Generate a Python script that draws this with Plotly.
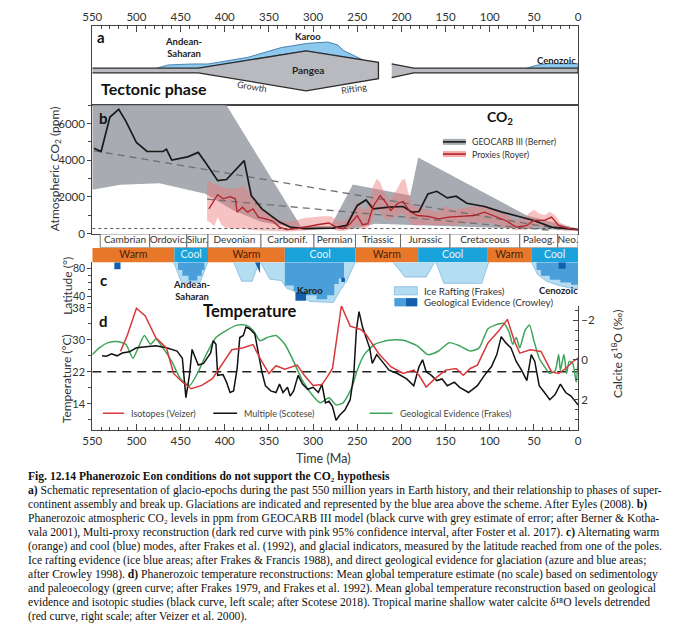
import plotly.graph_objects as go

# ======================= DATA =======================
X_START, X_END = 550, 0

# ---- panel a: tectonic schematic (Ma, schematic height) ----
PANGEA_MA = [550, 430, 308, 226, 226, 308, 430, 550]
PANGEA_H = [37.7, 37.7, 55.3, 43.7, 27.0, 14.7, 33.0, 33.0]
BREAKUP_MA = [211, 186, 0, 0, 186, 211]
BREAKUP_H = [42.0, 37.7, 37.7, 33.0, 33.0, 28.0]
GLACIAL_PALEO_MA = [477, 464, 437, 419, 374, 336, 306, 283, 272, 265, 253, 244, 308, 430]
GLACIAL_PALEO_H = [37.7, 41.0, 42.0, 42.0, 48.7, 58.7, 63.0, 64.3, 61.3, 55.3, 50.3, 46.2, 55.3, 37.7]
GLACIAL_CENO_MA = [58, 48, 35, 15, 0, 0]
GLACIAL_CENO_H = [37.7, 40.5, 42.3, 42.7, 42.3, 37.7]

# ---- panel b: CO2 (ppm) ----
GEOCARB_MA = [548, 540, 530, 520, 512, 500, 488, 470, 466, 460, 442, 430, 422, 408, 398, 380,
              378, 370, 358, 338, 326, 310, 278, 262, 250, 240, 232, 214, 198, 188, 180, 170,
              160, 148, 138, 126, 106, 86, 66, 50, 30, 0]
GEOCARB_CO2 = [4660, 4480, 6360, 6780, 6140, 4970, 4480, 4480, 4600, 4010, 4190, 4430, 3890, 2890,
               2950, 3890, 3980, 2080, 1355, 630, 360, 270, 300, 450, 1540, 1840, 1355, 1445, 1480,
               1175, 1210, 2170, 2310, 1950, 2040, 1660, 1480, 1175, 940, 720, 360, 220]
GC_UPPER_MA = [550, 398, 314, 280, 255, 190, 181, 58, 0]
GC_UPPER_CO2 = [7600, 7000, 420, 420, 2680, 2080, 4150, 990, 270]
GC_LOWER_MA = [550, 518, 474, 422, 390, 358, 318, 290, 254, 230, 190, 158, 58, 0]
GC_LOWER_CO2 = [2400, 2670, 2750, 2170, 1265, 630, 325, 280, 250, 540, 450, 420, 270, 180]

PROXY_MA = [418, 412, 408, 402, 394, 388, 386, 380, 374, 368, 362, 354, 346, 338, 330, 318, 306,
            294, 282, 274, 266, 258, 250, 244, 238, 232, 224, 218, 212, 204, 198, 190, 182, 170,
            158, 146, 134, 118, 106, 94, 82, 70, 58, 50, 38, 30, 22, 10, 0]
PROXY_CO2 = [1355, 1800, 2130, 1900, 2020, 1900, 1175, 1445, 1175, 1355, 900, 810, 690, 360, 220,
             270, 400, 500, 580, 360, 270, 540, 990, 490, 540, 1480, 2080, 1720, 1265, 1660, 1750,
             1175, 990, 940, 810, 900, 940, 990, 1175, 940, 720, 360, 450, 720, 720, 900, 450,
             270, 220]
CI_MA = [420, 416, 412, 408, 404, 400, 396, 390, 384, 378, 372, 366, 360, 354, 348, 340, 330, 320,
         310, 300, 290, 280, 272, 266, 260, 254, 250, 246, 240, 236, 232, 228, 224, 220, 216, 212,
         208, 204, 200, 196, 192, 188, 184, 180, 170, 160, 150, 140, 130, 120, 110, 100, 90, 80,
         70, 60, 56, 50, 44, 38, 32, 26, 20, 14, 8, 0]
CI_UPPER = [2890, 2800, 2700, 2600, 2550, 2500, 2450, 2450, 2500, 2600, 2200, 1700, 1400, 1200,
            1000, 800, 650, 700, 850, 900, 950, 950, 700, 650, 900, 1300, 1800, 1400, 1300, 1800,
            2600, 3000, 2800, 2300, 2000, 1800, 2200, 2500, 2900, 3000, 2200, 1600, 1500, 1400,
            1300, 1200, 1500, 1300, 1400, 1500, 1450, 1500, 1200, 1000, 700, 900, 1100, 1300,
            1100, 1000, 1200, 1000, 600, 450, 350, 300]
CI_LOWER = [700, 600, 400, 900, 500, 350, 300, 250, 300, 250, 200, 180, 170, 160, 150, 150, 120,
            130, 150, 200, 250, 250, 150, 150, 200, 350, 500, 250, 250, 400, 900, 1300, 1200, 900,
            700, 800, 900, 1000, 1100, 1000, 700, 500, 450, 450, 500, 450, 500, 450, 550, 600,
            600, 600, 400, 300, 200, 200, 250, 400, 400, 400, 500, 300, 200, 150, 150, 150]
TREND_UPPER_MA = [548, 20]
TREND_UPPER_CO2 = [4520, 240]
TREND_LOWER_MA = [420, 30]
TREND_LOWER_CO2 = [1880, 180]
PREINDUSTRIAL_CO2 = 280

# ---- panel c: periods, modes, glacial latitude ----
PERIOD_BOUNDS = [541, 485, 443, 419, 359, 299, 252, 201, 145, 66, 23, 0]
PERIOD_NAMES = ["Cambrian", "Ordovic.", "Silur.", "Devonian", "Carbonif.", "Permian",
                "Triassic", "Jurassic", "Cretaceous", "Paleog.", "Neo."]
MODE_BOUNDS = [550, 457, 419, 332, 252, 181, 103, 53, 0]
MODE_NAMES = ["Warm", "Cool", "Warm", "Cool", "Warm", "Cool", "Warm", "Cool"]

RAFT_ANDEAN = [(458, 90), (449, 60), (428, 60), (419, 90)]
RAFT_DEVONIAN = [(390, 90), (381, 62), (369, 62), (361, 90)]
RAFT_KAROO = [(360, 90), (349, 65), (336, 63), (330, 52), (318, 46), (304, 33), (277, 31.5),
              (270, 47), (262, 62), (252, 90)]
RAFT_JURASSIC = [(210, 90), (196, 68), (172, 68), (162, 90)]
RAFT_CRETACEOUS = [(161, 90), (152, 59), (109, 59), (101, 90)]
RAFT_CENOZOIC = [(53, 90), (46, 72), (36, 62), (22, 56), (8, 52), (0, 51), (0, 90)]
GEO_ANDEAN = [(453, 90), (453, 78), (448, 78), (448, 70), (441, 70), (441, 63), (431, 63),
              (431, 70), (426, 70), (426, 78), (423, 78), (423, 90)]
GEO_KAROO = [(332, 90), (332, 56), (322, 56), (322, 48), (316, 48), (316, 42), (296, 42),
             (296, 36), (284, 36), (284, 42), (276, 42), (276, 58), (271, 58), (271, 66),
             (265, 66), (265, 90)]
GEO_CENOZOIC = [(47, 90), (47, 78), (42, 78), (42, 70), (32, 70), (32, 64), (20, 64), (20, 60),
                (8, 60), (8, 57), (0, 57), (0, 90)]
DARK_CAMBRIAN = [(525, 90), (518, 90), (518, 79), (525, 79)]
DARK_DEVONIAN = [(366, 90), (360, 90), (360, 73)]
DARK_KAROO = [(320, 47), (308, 47), (308, 34), (320, 34)]
DARK_PERMIAN = [(268, 67), (264, 67), (264, 61), (268, 61)]
DARK_CENOZOIC = [(22, 90), (14, 90), (14, 80), (22, 80)]

# ---- panel d: temperature ----
SCOTESE = [(539, 26.0), (534, 25.9), (528, 26.5), (522, 26.0), (516, 26.7), (508, 27.0),
           (500, 28.0), (490, 28.3), (478, 28.5), (466, 28.0), (454, 27.2), (448, 25.4),
           (444, 15.5), (440, 21.1), (437, 27.6), (434, 25.9), (430, 23.7), (424, 24.1),
           (416, 26.7), (413, 29.8), (410, 28.9), (408, 21.1), (402, 21.3), (398, 19.4),
           (394, 16.8), (390, 17.2), (386, 22.8), (383, 30.6), (379, 31.1), (376, 33.2),
           (372, 32.8), (366, 31.5), (362, 26.7), (358, 22.0), (354, 18.5), (348, 17.2),
           (342, 16.8), (338, 18.9), (334, 16.8), (329, 18.1), (326, 15.9), (322, 17.2),
           (317, 21.1), (312, 18.9), (306, 17.6), (300, 18.1), (294, 16.8), (290, 18.9),
           (286, 14.2), (282, 14.6), (278, 13.3), (274, 9.8), (270, 11.1), (264, 12.4),
           (258, 15.0), (254, 21.1), (251, 32.4), (248, 37.1), (244, 33.2), (240, 30.6),
           (236, 28.0), (233, 24.1), (228, 26.3), (220, 24.1), (214, 22.4), (204, 21.5),
           (194, 20.2), (186, 18.5), (180, 23.3), (176, 25.0), (172, 22.0), (166, 21.1),
           (160, 19.8), (154, 20.2), (148, 18.5), (140, 19.4), (134, 18.1), (124, 16.8),
           (114, 18.5), (106, 21.1), (98, 23.3), (92, 26.3), (87, 30.8), (82, 29.3),
           (76, 28.0), (70, 24.6), (64, 22.4), (58, 19.8), (53, 26.3), (49, 24.6), (44, 18.5),
           (38, 16.8), (32, 15.0), (26, 16.3), (20, 18.9), (14, 16.8), (8, 15.9), (0, 13.7)]
VEIZER_D18O = [(518, -0.43), (510, -1.28), (500, -2.60), (490, -2.21), (478, -1.11),
               (466, -0.60), (458, 0.68), (448, 1.11), (438, 1.45), (426, 1.28), (414, 0.94),
               (402, 0.17), (392, -0.51), (380, -0.60), (368, -0.77), (358, 0.09), (350, 0.68),
               (342, 0.29), (332, 0.46), (318, 0.26), (310, 0.77), (300, 1.28), (290, 1.24),
               (284, 0.85), (278, 0.43), (268, -2.72), (258, -1.70), (246, -1.53), (240, -1.28),
               (226, -0.34), (212, 0.34), (198, 0.68), (186, 0.51), (180, 0.77), (172, 1.36),
               (162, 0.94), (150, 0.51), (138, 0.43), (130, 0.77), (122, 0.43), (114, 0.26),
               (102, -0.85), (90, -1.45), (80, -2.04), (72, -0.94), (66, -0.34), (54, -0.51),
               (42, -0.43), (30, 0.60), (22, 0.68), (14, 0.43), (6, 0.09), (0, -0.09)]
FRAKES = [(550, 26.3), (542, 28.0), (532, 29.3), (522, 29.6), (512, 28.9), (504, 25.4),
          (498, 28.0), (491, 31.1), (484, 28.9), (478, 30.2), (470, 28.0), (460, 24.6),
          (450, 20.2), (440, 18.5), (430, 22.0), (422, 25.9), (410, 30.6), (398, 32.4),
          (386, 33.7), (376, 33.7), (368, 32.4), (360, 29.8), (352, 30.6), (342, 31.1),
          (332, 28.9), (322, 24.6), (312, 19.8), (300, 15.9), (292, 14.2), (282, 15.5),
          (274, 13.7), (266, 14.2), (256, 18.1), (250, 22.4), (242, 26.3), (230, 28.9),
          (214, 29.9), (198, 29.9), (182, 28.5), (170, 26.3), (158, 27.2), (146, 29.3),
          (134, 28.5), (122, 27.2), (112, 28.0), (102, 32.8), (94, 33.7), (84, 34.1),
          (78, 31.9), (74, 28.9), (70, 30.6), (66, 28.0), (60, 32.4), (55, 33.7), (50, 29.8),
          (44, 25.4), (38, 23.3), (32, 21.6), (26, 22.2), (22, 26.3), (20, 22.4), (16, 26.3),
          (13, 21.6), (10, 24.6), (6, 24.1), (2, 19.4), (0, 25.4)]
REFERENCE_TEMP = 22

CAPTION_LINES = [
    "<b>Fig. 12.14 Phanerozoic Eon conditions do not support the CO₂ hypothesis</b>",
    "<b>a)</b> Schematic representation of glacio-epochs during the past 550 million years in Earth history, and their relationship to phases of super-",
    "continent assembly and break up. Glaciations are indicated and represented by the blue area above the scheme. After Eyles (2008). <b>b)</b>",
    "Phanerozoic atmospheric CO₂ levels in ppm from GEOCARB III model (black curve with grey estimate of error; after Berner & Kotha-",
    "vala 2001), Multi-proxy reconstruction (dark red curve with pink 95% confidence interval, after Foster et al. 2017). <b>c)</b> Alternating warm",
    "(orange) and cool (blue) modes, after Frakes et al. (1992), and glacial indicators, measured by the latitude reached from one of the poles.",
    "Ice rafting evidence (ice blue areas; after Frakes & Francis 1988), and direct geological evidence for glaciation (azure and blue areas;",
    "after Crowley 1998). <b>d)</b> Phanerozoic temperature reconstructions: Mean global temperature estimate (no scale) based on sedimentology",
    "and paleoecology (green curve; after Frakes 1979, and Frakes et al. 1992). Mean global temperature reconstruction based on geological",
    "evidence and isotopic studies (black curve, left scale; after Scotese 2018). Tropical marine shallow water calcite δ¹⁸O levels detrended",
    "(red curve, right scale; after Veizer et al. 2000).",
]

# ======================= STYLE / LAYOUT =======================
W, H = 680, 635
FONT = "Lato"
SERIF = "Liberation Serif"
AX = "#444444"
TXT = "#333333"
XL, XR = 84, 580          # plot area left / right (pixels)


def pxx(x):
    return x / W


def pyy(y):
    return 1 - y / H


def ma2px(ma):
    return XL + (X_START - ma) / (X_START - X_END) * (XR - XL)


XD = [pxx(XL), pxx(XR)]
DOM_A = [pyy(102), pyy(21.7)]
DOM_B = [pyy(233), pyy(102)]
DOM_P = [pyy(247), pyy(233)]
DOM_M = [pyy(262), pyy(247)]
DOM_C = [pyy(306), pyy(262)]
DOM_D = [pyy(433), pyy(306)]

C_GRAY = "#A9ABB3"
C_PINK = "rgba(238,120,120,0.45)"
C_RED = "#B3212A"
C_WARM = "#E9772A"
C_COOL = "#1AA2DA"
C_ICE = "#B5DDF2"
C_ICE_LINE = "#80BBDF"
C_GEO = "#4A9FDB"
C_DARK = "#135FAE"

fig = go.Figure()


def poly(ma, vals, xa, ya, fill, line=None, lw=0.0):
    fig.add_trace(go.Scatter(x=ma, y=vals, xaxis=xa, yaxis=ya, mode="lines", fill="toself",
                             fillcolor=fill, line=dict(color=line or fill, width=lw),
                             hoverinfo="skip"))


def poly_pairs(pairs, xa, ya, fill, line=None, lw=0.0):
    poly([p[0] for p in pairs], [p[1] for p in pairs], xa, ya, fill, line, lw)


# ---- panel a ----
poly(GLACIAL_PALEO_MA, GLACIAL_PALEO_H, "x2", "y3", "#8DC9EE", "#2E6B9B", 0.8)
poly(GLACIAL_CENO_MA, GLACIAL_CENO_H, "x2", "y3", "#8DC9EE", "#2E6B9B", 0.8)
poly(PANGEA_MA, PANGEA_H, "x2", "y3", "#B8BABF", "#2B2B2B", 1.3)
poly(BREAKUP_MA, BREAKUP_H, "x2", "y3", "#B8BABF", "#2B2B2B", 1.3)

# ---- panel b ----
poly(GC_UPPER_MA + GC_LOWER_MA[::-1], GC_UPPER_CO2 + GC_LOWER_CO2[::-1], "x3", "y4", C_GRAY)
poly(CI_MA + CI_MA[::-1], CI_UPPER + CI_LOWER[::-1], "x3", "y4", C_PINK)
fig.add_trace(go.Scatter(x=[X_START, X_END], y=[PREINDUSTRIAL_CO2] * 2, xaxis="x3", yaxis="y4",
                         mode="lines", line=dict(color="#555", width=1, dash="dot"), hoverinfo="skip"))
for tma, tco in ((TREND_UPPER_MA, TREND_UPPER_CO2), (TREND_LOWER_MA, TREND_LOWER_CO2)):
    fig.add_trace(go.Scatter(x=tma, y=tco, xaxis="x3", yaxis="y4", mode="lines",
                             line=dict(color="#707070", width=1.3, dash="7px,5px"), hoverinfo="skip"))
fig.add_trace(go.Scatter(x=GEOCARB_MA, y=GEOCARB_CO2, xaxis="x3", yaxis="y4", mode="lines",
                         line=dict(color="#1A1A1A", width=1.7), hoverinfo="skip"))
fig.add_trace(go.Scatter(x=PROXY_MA, y=PROXY_CO2, xaxis="x3", yaxis="y4", mode="lines",
                         line=dict(color=C_RED, width=1.3), hoverinfo="skip"))

# ---- period row ----
p_mid = [(a + b) / 2 for a, b in zip(PERIOD_BOUNDS[:-1], PERIOD_BOUNDS[1:])]
p_wid = [a - b for a, b in zip(PERIOD_BOUNDS[:-1], PERIOD_BOUNDS[1:])]
fig.add_trace(go.Bar(x=p_mid, y=[1] * len(p_mid), width=p_wid, base=0, xaxis="x4", yaxis="y5",
                     marker=dict(color="white", line=dict(color="#555", width=0.8)), hoverinfo="skip"))
fig.add_trace(go.Scatter(x=p_mid, y=[0.5] * len(p_mid), text=PERIOD_NAMES, mode="text",
                         xaxis="x4", yaxis="y5", textfont=dict(size=10, color=TXT, family=FONT),
                         cliponaxis=False, hoverinfo="skip"))

# ---- warm / cool row ----
m_mid = [(a + b) / 2 for a, b in zip(MODE_BOUNDS[:-1], MODE_BOUNDS[1:])]
m_wid = [a - b for a, b in zip(MODE_BOUNDS[:-1], MODE_BOUNDS[1:])]
m_col = [C_WARM if m == "Warm" else C_COOL for m in MODE_NAMES]
m_txt = ["#4A2208" if m == "Warm" else "#E4F4FC" for m in MODE_NAMES]
fig.add_trace(go.Bar(x=m_mid, y=[1] * len(m_mid), width=m_wid, base=0, xaxis="x5", yaxis="y6",
                     marker=dict(color=m_col, line=dict(width=0)), hoverinfo="skip"))
fig.add_trace(go.Scatter(x=m_mid, y=[0.5] * len(m_mid), text=MODE_NAMES, mode="text",
                         xaxis="x5", yaxis="y6", textfont=dict(size=10.5, color=m_txt, family=FONT),
                         cliponaxis=False, hoverinfo="skip"))

# ---- panel c: glaciation ----
for shp in (RAFT_ANDEAN, RAFT_DEVONIAN, RAFT_KAROO, RAFT_JURASSIC, RAFT_CRETACEOUS, RAFT_CENOZOIC):
    poly_pairs(shp, "x6", "y7", C_ICE, C_ICE_LINE, 0.8)
for shp in (GEO_ANDEAN, GEO_KAROO, GEO_CENOZOIC):
    poly_pairs(shp, "x6", "y7", C_GEO)
for shp in (DARK_CAMBRIAN, DARK_DEVONIAN, DARK_KAROO, DARK_PERMIAN, DARK_CENOZOIC):
    poly_pairs(shp, "x6", "y7", C_DARK)

# ---- panel d: temperature ----
fig.add_trace(go.Scatter(x=[X_START, X_END], y=[REFERENCE_TEMP] * 2, xaxis="x", yaxis="y",
                         mode="lines", line=dict(color="#222", width=1.4, dash="9px,6px"), hoverinfo="skip"))
fig.add_trace(go.Scatter(x=[p[0] for p in FRAKES], y=[p[1] for p in FRAKES], xaxis="x", yaxis="y",
                         mode="lines", line=dict(color="#3DA55A", width=1.5, shape="spline", smoothing=0.6),
                         hoverinfo="skip"))
fig.add_trace(go.Scatter(x=[p[0] for p in VEIZER_D18O], y=[p[1] for p in VEIZER_D18O], xaxis="x",
                         yaxis="y2", mode="lines", line=dict(color="#D8383C", width=1.5), hoverinfo="skip"))
fig.add_trace(go.Scatter(x=[p[0] for p in SCOTESE], y=[p[1] for p in SCOTESE], xaxis="x", yaxis="y",
                         mode="lines", line=dict(color="#111", width=1.5), hoverinfo="skip"))

# ---- axes ----
tickfont = dict(size=11.5, color=TXT, family=FONT)
xcommon = dict(range=[X_START, X_END], domain=XD, showgrid=False, zeroline=False, fixedrange=True)
hidden = dict(visible=False, showgrid=False, zeroline=False, fixedrange=True)
T_RANGE = [7.27, 38.57]
D18O_RANGE = [3.546, -2.726]
LAT_RANGE = [26.9, 88.9]
CO2_RANGE = [-16, 7002]
H_RANGE = [0, 80.3]

fig.update_layout(
    xaxis=dict(**xcommon, anchor="y", showline=True, linecolor=AX, linewidth=1, ticks="inside",
               ticklen=6, tickcolor=AX, dtick=50, tick0=0, tickfont=tickfont,
               minor=dict(dtick=10, ticks="inside", ticklen=3, tickcolor=AX)),
    yaxis=dict(domain=DOM_D, range=T_RANGE, anchor="x", showline=True, linecolor=AX,
               showgrid=False, zeroline=False, ticks="outside", ticklen=4, tickcolor=AX, dtick=8,
               tick0=14, tickfont=dict(size=11, color=TXT, family=FONT), fixedrange=True,
               minor=dict(dtick=4, tick0=2, ticks="outside", ticklen=3, tickcolor=AX)),
    yaxis2=dict(overlaying="y", side="right", anchor="x", range=D18O_RANGE, showline=True,
                linecolor=AX, showgrid=False, zeroline=False, ticks="inside", ticklen=5,
                tickcolor=AX, dtick=2, tick0=0, tickfont=tickfont, fixedrange=True,
                minor=dict(dtick=0.5, ticks="inside", ticklen=3, tickcolor=AX)),
    xaxis2=dict(**xcommon, anchor="y3", side="top", showline=True, mirror=True, linecolor=AX,
                ticks="inside", ticklen=6, tickcolor=AX, dtick=50, tick0=0, tickfont=tickfont,
                minor=dict(dtick=10, ticks="inside", ticklen=3, tickcolor=AX)),
    yaxis3=dict(domain=DOM_A, range=H_RANGE, anchor="x2", showline=True, mirror=True,
                linecolor=AX, showticklabels=False, ticks="", showgrid=False, zeroline=False,
                fixedrange=True),
    xaxis3=dict(**xcommon, anchor="y4", showline=True, mirror=True, linecolor=AX,
                showticklabels=False, ticks=""),
    yaxis4=dict(domain=DOM_B, range=CO2_RANGE, anchor="x3", showline=True, mirror=True,
                linecolor=AX, showgrid=False, zeroline=False, ticks="outside", ticklen=4,
                tickcolor=AX, dtick=2000, tick0=0, tickfont=tickfont, fixedrange=True,
                minor=dict(dtick=1000, ticks="outside", ticklen=3, tickcolor=AX)),
    xaxis4=dict(**hidden, range=[X_START, X_END], domain=XD, anchor="y5"),
    yaxis5=dict(**hidden, range=[0, 1], domain=DOM_P, anchor="x4"),
    xaxis5=dict(**hidden, range=[X_START, X_END], domain=XD, anchor="y6"),
    yaxis6=dict(**hidden, range=[0, 1], domain=DOM_M, anchor="x5"),
    xaxis6=dict(**hidden, range=[X_START, X_END], domain=XD, anchor="y7"),
    yaxis7=dict(domain=DOM_C, range=LAT_RANGE, anchor="x6", showline=True, linecolor=AX,
                showgrid=False, zeroline=False, ticks="outside", ticklen=4, tickcolor=AX,
                dtick=40, tick0=0, tickfont=dict(size=10.5, color=TXT, family=FONT),
                fixedrange=True,
                minor=dict(dtick=10, ticks="outside", ticklen=3, tickcolor=AX)),
    width=W, height=H, margin=dict(l=0, r=0, t=0, b=0), autosize=False,
    paper_bgcolor="white", plot_bgcolor="rgba(0,0,0,0)", showlegend=False,
    barmode="overlay", font=dict(family=FONT, color=TXT),
)


# value -> pixel helpers (follow the axis ranges / domains above)
def lin(v, rng, p_lo, p_hi):
    return p_lo + (v - rng[0]) / (rng[1] - rng[0]) * (p_hi - p_lo)


def co2py(c):
    return lin(c, CO2_RANGE, 233, 102)


def lat2py(lat):
    return lin(lat, LAT_RANGE, 306, 262)


# ---- annotations ----
def ann(text, x, y, size=11, bold=False, color="#222", xanchor="center", yanchor="middle",
        angle=0, family=FONT):
    fig.add_annotation(text=f"<b>{text}</b>" if bold else text, x=pxx(x), y=pyy(y),
                       xref="paper", yref="paper", showarrow=False, xanchor=xanchor,
                       yanchor=yanchor, textangle=angle, borderpad=0,
                       font=dict(size=size, color=color, family=family))


def rect(x0, y0, x1, y1, color, line=None):
    fig.add_shape(type="rect", xref="paper", yref="paper", x0=pxx(x0), x1=pxx(x1),
                  y0=pyy(y0), y1=pyy(y1), fillcolor=color,
                  line=dict(color=line or color, width=0.8 if line else 0))


def seg(x0, x1, y, color, width):
    fig.add_shape(type="line", xref="paper", yref="paper", x0=pxx(x0), x1=pxx(x1),
                  y0=pyy(y), y1=pyy(y), line=dict(color=color, width=width))


# panel a
ann("a", ma2px(540), 33, 15, True, "#111")
ann("Andean-<br>Saharan", ma2px(447), 43, 9.5, True, "#222")
ann("Karoo", ma2px(306), 31.7, 9.5, True, "#222")
ann("Cenozoic", ma2px(1), 56.7, 9.5, True, "#222", xanchor="right")
ann("Pangea", ma2px(306), 66, 10, True, "#222")
ann("Tectonic phase", ma2px(541), 85, 16, True, "#111", xanchor="left")
ann("Growth", ma2px(369), 83.3, 9, False, "#333", angle=9)
ann("Rifting", ma2px(254), 85, 9, False, "#333", angle=-9)

# panel b
ann("b", ma2px(537), 115, 15, True, "#111")
ann("CO<sub>2</sub>", ma2px(88), co2py(6325), 14, True, "#111")
for row_co2, c_wide, c_thin, lab in ((5005, C_GRAY, "#1A1A1A", "GEOCARB III (Berner)"),
                                     (4340, "#F4AAAA", C_RED, "Proxies (Royer)")):
    seg(ma2px(153), ma2px(127), co2py(row_co2), c_wide, 6)
    seg(ma2px(153), ma2px(127), co2py(row_co2), c_thin, 1.6)
    ann(lab, ma2px(121), co2py(row_co2), 8.8, False, TXT, xanchor="left")
ann("Atmospheric CO<sub>2</sub> (ppm)", XL - 38, 167, 12, False, TXT, angle=-90)

# panel c
ann("c", ma2px(537), lat2py(63.5), 15, True, "#111")
ann("Latitude (°)", XL - 26, 286, 12, False, TXT, angle=-90)
ann("Andean-<br>Saharan", ma2px(438), lat2py(48), 9.5, True, "#222")
ann("Karoo", ma2px(304), lat2py(49.4), 9.5, True, "#222")
ann("Cenozoic", XR + 1, lat2py(49.4), 9.5, True, "#222", xanchor="right")
rect(ma2px(208), lat2py(54.1), ma2px(182), lat2py(42.4), C_ICE, C_ICE_LINE)
rect(ma2px(208), lat2py(37.8), ma2px(195), lat2py(25.9), C_GEO)
rect(ma2px(195), lat2py(37.8), ma2px(182), lat2py(25.9), C_DARK)
ann("Ice Rafting (Frakes)", ma2px(176), lat2py(48.3), 9.8, False, TXT, xanchor="left")
ann("Geological Evidence (Crowley)", ma2px(176), lat2py(31.8), 9.8, False, TXT, xanchor="left")

# panel d
ann("d", ma2px(537), 322, 15, True, "#111")
ann("Temperature", ma2px(372), 311.7, 16.5, True, "#111")
ann("Temperature (°C)", XL - 26, 380, 12, False, TXT, angle=-90)
ann("Calcite δ<sup>18</sup>O (‰)", XR + 40, 355, 12, False, TXT, angle=-90)
ann("Time (Ma)", ma2px(288), 461, 12.5, False, TXT)
LEG_T = 11.6
for (a, b), col, lab, tx in (((538, 514), "#D8383C", "Isotopes (Veizer)", 508),
                             ((413, 386), "#111", "Multiple (Scotese)", 380),
                             ((236, 210), "#3DA55A", "Geological Evidence (Frakes)", 204)):
    fig.add_shape(type="line", xref="x", yref="y", x0=a, x1=b, y0=LEG_T, y1=LEG_T,
                  line=dict(color=col, width=1.6))
    fig.add_annotation(text=lab, x=tx, y=LEG_T, xref="x", yref="y", showarrow=False,
                       xanchor="left", yanchor="middle",
                       font=dict(size=9, color="#444", family=FONT))

# caption
for i, line in enumerate(CAPTION_LINES):
    ann(line, 17, 480 + i * 14.2, 11.6, False, "#111", xanchor="left", family=SERIF)

fig.write_html("out.html", config={"displayModeBar": False},
               post_script="document.body.style.margin='0px';")
